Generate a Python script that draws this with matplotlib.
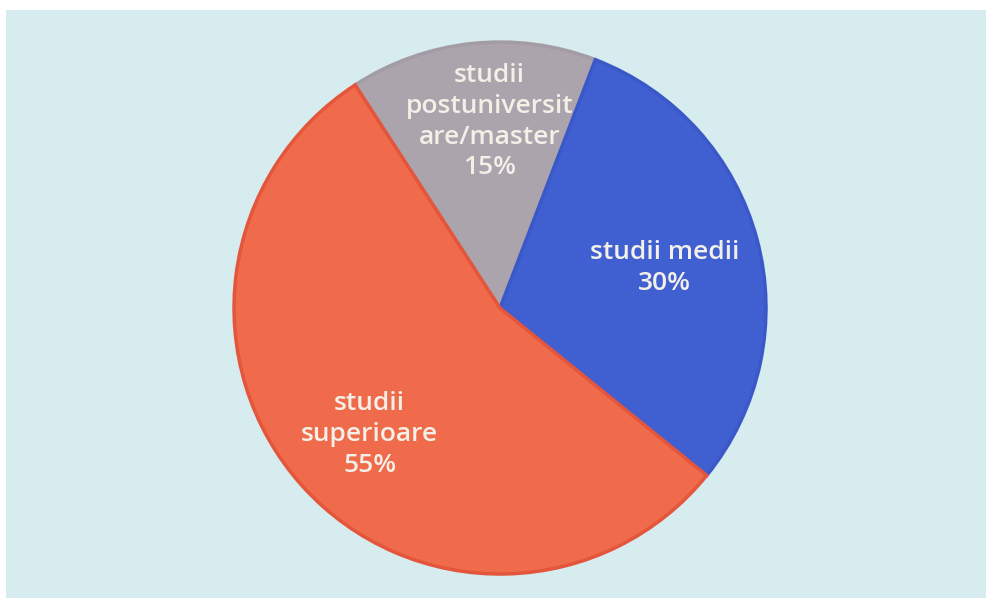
import matplotlib.pyplot as plt
import matplotlib.patches as patches

# slice data, in drawing order (clockwise from the top-left)
labels = ['studii\npostuniversit\nare/master', 'studii medii', 'studii\nsuperioare']
shares = [15, 30, 55]
colors = ['#aba4ac', '#4060d2', '#ef6b4b']
edges = ['#a39ca4', '#3a58c8', '#e4553b']

# where each label sits, in pie-radius units
label_pos = [(-0.04, 0.70), (0.62, 0.15), (-0.49, -0.475)]

fig = plt.figure(figsize=(9.87, 5.98), dpi=100)
fig.patch.set_facecolor('white')

# light cyan panel behind the pie
fig.patches.append(patches.Rectangle((0.006, 0), 1.0, 0.983, transform=fig.transFigure,
                                     facecolor='#d6ecef', edgecolor='none', zorder=-5))

ax = fig.add_axes([0.2371, 0.0401, 0.539, 0.8896])
ax.set_facecolor('none')
wedges, _ = ax.pie(shares, colors=colors, startangle=123, counterclock=False,
                   radius=1.0, wedgeprops=dict(linewidth=2.5))
for w, ec in zip(wedges, edges):
    w.set_edgecolor(ec)

for lab, val, (x, y) in zip(labels, shares, label_pos):
    ax.text(x, y, f'{lab}\n{val}%', ha='center', va='center', color='#f3f0e8',
            fontsize=19, fontweight='semibold', linespacing=1.3, family='Open Sans')

ax.set_xlim(-1, 1)
ax.set_ylim(-1, 1)
ax.set_aspect('equal')
ax.axis('off')

fig.savefig('out.png', dpi=100)
